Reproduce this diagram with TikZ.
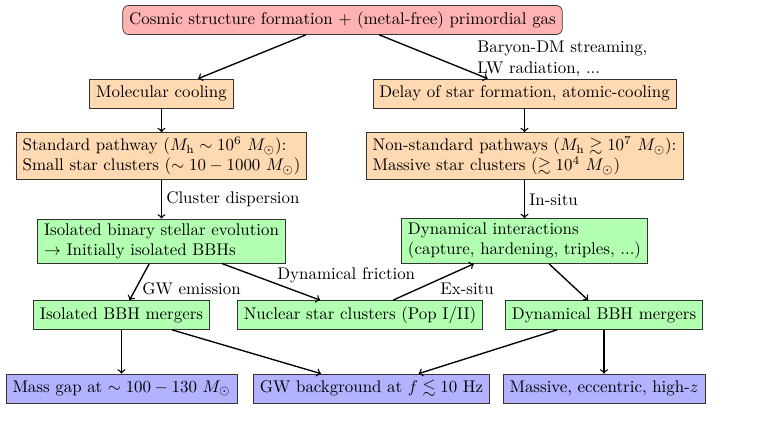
\documentclass[tikz,border=0pt]{standalone}
\usepackage{amsmath,amssymb}
\begin{document}
\begin{tikzpicture}[x=0.592pt,y=-0.592pt,
  box/.style={draw=black!80, inner xsep=3.8pt, inner ysep=2.6pt, minimum height=17.2pt, align=left},
  topbox/.style={box, fill=red!30, rounded corners=3.5pt},
  orbox/.style={box, fill=orange!30},
  grbox/.style={box, fill=green!30},
  blbox/.style={box, fill=blue!30},
  lbl/.style={inner sep=0pt, align=left},
  arr/.style={->, thick}]
\useasboundingbox (0,0) rectangle (769,427);
% boxes
\node[topbox] (top) at (342.5,20) {Cosmic structure formation + (metal-free) primordial gas};
\node[orbox] (mol) at (161.5,93.5) {Molecular cooling};
\node[orbox] (delay) at (524.5,93.5) {Delay of star formation, atomic-cooling};
\node[orbox] (std) at (161.5,156) {Standard pathway ($M_\mathrm{h}\sim 10^6~M_\odot$):\\Small star clusters ($\sim 10-1000~M_\odot$)};
\node[orbox] (nstd) at (524.5,156) {Non-standard pathways ($M_\mathrm{h}\gtrsim 10^7~M_\odot$):\\Massive star clusters ($\gtrsim 10^4~M_\odot$)};
\node[grbox] (iso) at (161.5,241) {Isolated binary stellar evolution\\$\rightarrow$ Initially isolated BBHs};
\node[grbox] (dyn) at (524.5,241) {Dynamical interactions\\(capture, hardening, triples, ...)};
\node[grbox] (isom) at (121.5,315) {Isolated BBH mergers};
\node[grbox] (nsc) at (360,315) {Nuclear star clusters (Pop I/II)};
\node[grbox] (dynm) at (604,315) {Dynamical BBH mergers};
\node[blbox] (gap) at (121.5,388.5) {Mass gap at $\sim 100-130~M_\odot$};
\node[blbox] (gwb) at (371.5,388.5) {GW background at $f\lesssim 10$ Hz};
\node[blbox] (mass) at (604,388.5) {Massive, eccentric, high-$z$};
% labels
\node[lbl, anchor=north west] (lbar) at (477,41) {Baryon-DM streaming,\\LW radiation, ...};
\node[lbl, anchor=west] (lclu) at (166,199) {Cluster dispersion};
\node[lbl, anchor=west] (lins) at (529,199.5) {In-situ};
\node[lbl, anchor=west] (lgwe) at (142,289.2) {GW emission};
\node[lbl, anchor=west] (lfri) at (277,275) {Dynamical friction};
\node[lbl, anchor=west] (lexs) at (440,289) {Ex-situ};
% connectors
\draw[arr] (top) -- (mol);
\draw[arr] (top) -- (delay);
\draw[arr] (mol) -- (std);
\draw[arr] (delay) -- (nstd);
\draw[arr] (std) -- (iso);
\draw[arr] (nstd) -- (dyn);
\draw[arr] (iso) -- (isom);
\draw[arr] (iso) -- (nsc);
\draw[arr] (nsc) -- (dyn);
\draw[arr] (dyn) -- (dynm);
\draw[arr] (isom) -- (gap);
\draw[arr] (isom) -- (gwb);
\draw[arr] (dynm) -- (gwb);
\draw[arr] (dynm) -- (mass);
\end{tikzpicture}
\end{document}
